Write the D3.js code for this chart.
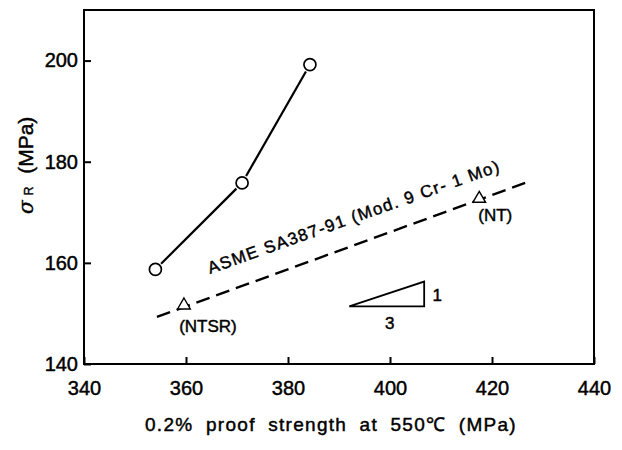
<!DOCTYPE html>
<html><head><meta charset="utf-8">
<script src="https://cdn.jsdelivr.net/npm/d3@7"></script>
<style>body{margin:0;background:#fff}svg{display:block}text{font-family:"Liberation Sans",Arial,sans-serif;fill:#000;stroke:#000;stroke-width:0.45px}</style>
</head><body>
<script>
const xTicks = [340, 360, 380, 400, 420, 440];
const yTicks = [140, 160, 180, 200];
const circleX = [354, 371, 384.3];
const circleY = [158.7, 175.8, 199.2];
const triX = [359.6, 417.5];
const triY = [151.6, 172.7];
const triLabels = ["(NTSR)", "(NT)"];
const asmeX = [354.3, 426.5];
const asmeY = [149.3, 175.8];
const slopeX = [392, 406.7, 406.7];
const slopeY = [151.4, 151.4, 156.3];
const asmeLabel = "ASME SA387-91 (Mod. 9 Cr- 1 Mo)";
const xTitleWords = ["0.2%", "proof", "strength", "at", "550℃", "(MPa)"];

const W = 622, H = 450;
const svg = d3.select("body").append("svg").attr("width", W).attr("height", H);
const x = d3.scaleLinear().domain([340, 440]).range([84, 594]);
const y = d3.scaleLinear().domain([140, 210]).range([364, 10]);

svg.append("rect").attr("x", x(340)).attr("y", y(210)).attr("width", x(440)-x(340)).attr("height", y(140)-y(210))
  .attr("fill", "none").attr("stroke", "#000").attr("stroke-width", 2);

const gx = svg.append("g").attr("transform", `translate(0,${y(140)})`)
  .call(d3.axisBottom(x).tickValues(xTicks).tickSize(-7).tickPadding(17).tickFormat(d3.format("d")));
const gy = svg.append("g").attr("transform", `translate(${x(340)},0)`)
  .call(d3.axisLeft(y).tickValues(yTicks).tickSize(-7).tickPadding(6).tickFormat(d3.format("d")));
[gx, gy].forEach(g => {
  g.select(".domain").remove();
  g.selectAll(".tick line").attr("stroke", "#000").attr("stroke-width", 2);
  g.selectAll(".tick text").attr("font-size", 20).attr("font-family", "Liberation Sans, Arial, sans-serif")
    .attr("fill", "#000").attr("stroke", "#000").attr("stroke-width", 0.5);
});
gx.selectAll(".tick text").attr("dy", "0.71em");

const circ = circleX.map((v, i) => [v, circleY[i]]);
const line = d3.line().x(d => x(d[0])).y(d => y(d[1]));
const r = 6;
for (let i = 0; i < circ.length - 1; i++) {
  const x1 = x(circ[i][0]), y1 = y(circ[i][1]), x2 = x(circ[i+1][0]), y2 = y(circ[i+1][1]);
  const L = Math.hypot(x2-x1, y2-y1), ux = (x2-x1)/L, uy = (y2-y1)/L;
  svg.append("line").attr("x1", x1+ux*(r+2)).attr("y1", y1+uy*(r+2)).attr("x2", x2-ux*(r+2)).attr("y2", y2-uy*(r+2))
    .attr("stroke", "#000").attr("stroke-width", 2.2);
}
svg.selectAll(".c").data(circ).enter().append("circle")
  .attr("cx", d => x(d[0])).attr("cy", d => y(d[1])).attr("r", r)
  .attr("fill", "#fff").attr("stroke", "#000").attr("stroke-width", 1.7);

svg.append("path").datum(asmeX.map((v, i) => [v, asmeY[i]])).attr("d", line)
  .attr("fill", "none").attr("stroke", "#000").attr("stroke-width", 2.4).attr("stroke-dasharray", "14,7");

const tri = triX.map((v, i) => [v, triY[i]]);
svg.selectAll(".t").data(tri).enter().append("path")
  .attr("d", d3.symbol().type(d3.symbolTriangle).size(70))
  .attr("transform", d => `translate(${x(d[0])},${y(d[1])})`)
  .attr("fill", "#fff").attr("stroke", "#000").attr("stroke-width", 1.4);
svg.selectAll(".tl").data(tri).enter().append("text")
  .attr("x", d => x(d[0])).attr("y", (d, i) => y(d[1]) + (i === 0 ? 27 : 22))
  .attr("text-anchor", "middle").attr("font-size", 17)
  .attr("dx", (d, i) => i === 0 ? 24 : 16)
  .text((d, i) => triLabels[i]);

svg.append("text").attr("transform", `translate(210,274) rotate(-19.5)`)
  .attr("font-size", 17).attr("textLength", 308).attr("lengthAdjust", "spacing")
  .text(asmeLabel);

svg.append("path").datum(slopeX.map((v, i) => [v, slopeY[i]]).concat([[slopeX[0], slopeY[0]]]))
  .attr("d", line).attr("fill", "none").attr("stroke", "#000").attr("stroke-width", 1.8);
svg.append("text").attr("x", x(slopeX[2]) + 13).attr("y", (y(slopeY[0]) + y(slopeY[2]))/2 + 7)
  .attr("text-anchor", "middle").attr("font-size", 17).text("1");
svg.append("text").attr("x", (x(slopeX[0]) + x(slopeX[1]))/2 + 3).attr("y", y(slopeY[0]) + 23)
  .attr("text-anchor", "middle").attr("font-size", 17).text("3");

// x title: words with letter spacing, spread between 145 and 517
const xt = svg.append("text").attr("x", 145).attr("y", 431).attr("font-size", 19).attr("letter-spacing", 1.3)
  .text(xTitleWords.join(" "));
const natural = xt.node().getComputedTextLength();
xt.attr("word-spacing", Math.max(0, (517 - 145 - natural) / 5));

const yl = svg.append("text").attr("transform", "translate(33,214) rotate(-90)").attr("font-size", 20);
yl.append("tspan").attr("font-family", "DejaVu Serif, serif").attr("font-style", "italic").text("σ");
yl.append("tspan").attr("font-size", 12).attr("dx", 5).text("R");
yl.append("tspan").attr("dx", 13).attr("textLength", 57).attr("lengthAdjust", "spacingAndGlyphs").text("(MPa)");
</script>
</body></html>
